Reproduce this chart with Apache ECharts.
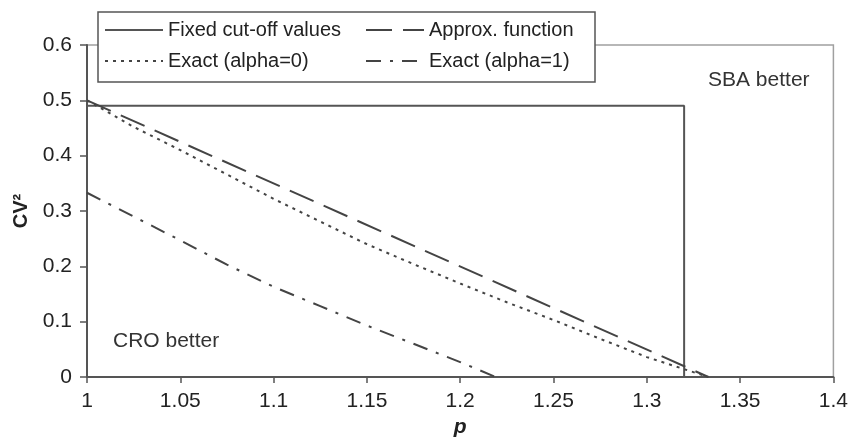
<!DOCTYPE html>
<html lang="en">
    <head>
        <meta charset="UTF-8">
        <title>CV² cut-off values</title>
        <script src="https://cdn.jsdelivr.net/npm/echarts@6/dist/echarts.min.js"></script>
        <style>
            html, body { margin: 0; padding: 0; background: #fff; }
            #chart { width: 851px; height: 443px; }
        </style>
    </head>

    <body>
        <div id="chart"></div>

        <script>
            // data
            var fixedP  = [1, 1, 1.32, 1.32];
            var fixedCv = [0, 0.49, 0.49, 0];

            var approxP  = [1, 1.333];
            var approxCv = [0.5, 0];

            var exact0P  = [1, 1.025, 1.05, 1.075, 1.1, 1.125, 1.15, 1.175, 1.2, 1.225, 1.25, 1.275, 1.3, 1.333];
            var exact0Cv = [0.5, 0.452, 0.41, 0.366, 0.322, 0.281, 0.24, 0.204, 0.169, 0.135, 0.103, 0.069, 0.036, 0];

            var exact1P  = [1, 1.025, 1.05, 1.075, 1.1, 1.125, 1.15, 1.175, 1.2, 1.219];
            var exact1Cv = [0.333, 0.29, 0.247, 0.203, 0.163, 0.128, 0.093, 0.06, 0.027, 0];

            var font = "'Liberation Sans', Arial, sans-serif";

            function pairs(xs, ys) {
                return xs.map(function (x, i) { return [x, ys[i]]; });
            }

            function lineSeries(name, xs, ys, type, color) {
                return {
                    name: name,
                    type: 'line',
                    data: pairs(xs, ys),
                    symbol: 'none',
                    smooth: false,
                    silent: true,
                    lineStyle: { color: color, width: 2, type: type },
                    itemStyle: { color: color }
                };
            }

            var chart = echarts.init(document.getElementById('chart'), null, { renderer: 'canvas' });

            var legendText = { fontFamily: font, fontSize: 20, color: '#222' };
            // hide the little circle echarts puts on line legend icons
            var noSymbol = { color: 'rgba(0,0,0,0)', borderColor: 'rgba(0,0,0,0)', borderWidth: 0, opacity: 0 };

            chart.setOption({
                animation: false,
                backgroundColor: '#fff',
                grid: {
                    left: 87, right: 15, top: 45, bottom: 66,
                    show: true, borderColor: '#a0a0a0', borderWidth: 1.5
                },
                xAxis: {
                    type: 'value',
                    min: 1, max: 1.4, interval: 0.05,
                    name: 'p',
                    nameLocation: 'middle',
                    nameGap: 40,
                    nameTextStyle: { fontFamily: font, fontSize: 21, fontWeight: 'bold', fontStyle: 'italic', color: '#222' },
                    axisLine: { lineStyle: { color: '#555', width: 2 } },
                    axisTick: { show: true, inside: false, length: 6, lineStyle: { color: '#555', width: 1.5 } },
                    axisLabel: { margin: 14, fontFamily: font, fontSize: 21, color: '#222' },
                    splitLine: { show: false }
                },
                yAxis: {
                    type: 'value',
                    min: 0, max: 0.6, interval: 0.1,
                    name: 'CV²',
                    nameLocation: 'middle',
                    nameGap: 56,
                    nameRotate: 90,
                    nameTextStyle: { fontFamily: font, fontSize: 20, fontWeight: 'bold', color: '#222' },
                    axisLine: { show: true, lineStyle: { color: '#555', width: 2 } },
                    axisTick: { show: true, inside: false, length: 7, lineStyle: { color: '#555', width: 1.5 } },
                    axisLabel: { margin: 15, fontFamily: font, fontSize: 21, color: '#222' },
                    splitLine: { show: false }
                },
                legend: [
                    {
                        orient: 'vertical', left: 104, top: 20, padding: 0, itemGap: 11,
                        itemWidth: 58, itemHeight: 14, selectedMode: false,
                        itemStyle: noSymbol,
                        textStyle: legendText,
                        data: ['Fixed cut-off values', 'Exact (alpha=0)']
                    },
                    {
                        orient: 'vertical', left: 365, top: 20, padding: 0, itemGap: 11,
                        itemWidth: 58, itemHeight: 14, selectedMode: false,
                        itemStyle: noSymbol,
                        textStyle: legendText,
                        data: ['Approx. function', 'Exact (alpha=1)']
                    }
                ],
                graphic: [
                    {
                        type: 'rect', z: 3,
                        shape: { x: 98, y: 12, width: 497, height: 70 },
                        style: { fill: '#fff', stroke: '#555', lineWidth: 1.5 }
                    },
                    {
                        type: 'text', left: 113, top: 331, z: 5,
                        style: { text: 'CRO better', fontFamily: font, fontSize: 21, fill: '#333' }
                    },
                    {
                        type: 'text', left: 708, top: 70, z: 5,
                        style: { text: 'SBA better', fontFamily: font, fontSize: 21, fill: '#333' }
                    }
                ],
                series: [
                    lineSeries('Fixed cut-off values', fixedP, fixedCv, 'solid', '#555'),
                    lineSeries('Approx. function', approxP, approxCv, [26, 11], '#444'),
                    lineSeries('Exact (alpha=0)', exact0P, exact0Cv, [3, 5], '#444'),
                    lineSeries('Exact (alpha=1)', exact1P, exact1Cv, [15, 9, 3, 9], '#444')
                ]
            });
        </script>
    </body>

</html>
